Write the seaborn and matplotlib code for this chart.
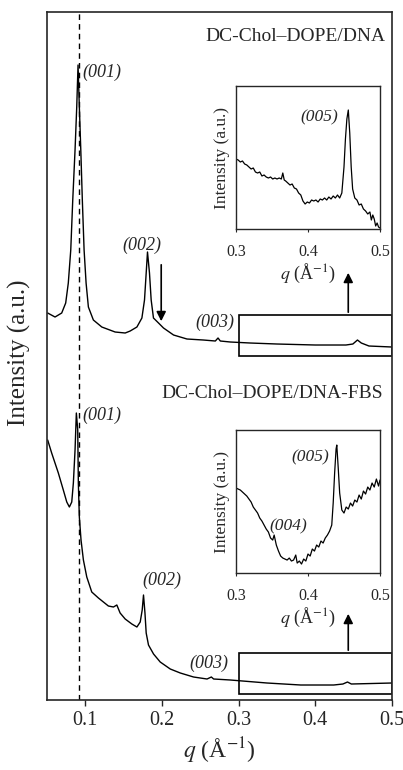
import matplotlib
matplotlib.use("Agg")
import matplotlib.pyplot as plt
from matplotlib.patches import Rectangle
import seaborn as sns
import numpy as np
import pandas as pd

# main curves: q (1/A) and intensity (arbitrary units, stacked with offset)
q_dna = [0.0509, 0.0605, 0.0692, 0.0744, 0.0778, 0.0810, 0.0836, 0.0866, 0.0888, 0.0905,
         0.0922, 0.0941, 0.0961, 0.0984, 0.1010, 0.1040, 0.1105, 0.1215, 0.1389, 0.1520,
         0.1585, 0.1673, 0.1738, 0.1772, 0.1794, 0.1811, 0.1837, 0.1859, 0.1889, 0.1955,
         0.2020, 0.2151, 0.2326, 0.2539, 0.2696, 0.2731, 0.2761, 0.2892, 0.315, 0.350,
         0.400, 0.440, 0.449, 0.455, 0.460, 0.470, 0.500]
i_dna = [385, 381, 385, 395, 415, 448, 498, 548, 591, 633,
         591, 548, 498, 448, 415, 391, 378, 371, 366, 365,
         367, 371, 380, 398, 425, 446, 425, 398, 380, 375,
         370, 363, 359, 358, 357, 360, 357, 356, 355, 354,
         353, 353, 354, 358, 355, 352, 351]

q_fbs = [0.0509, 0.0561, 0.0648, 0.0713, 0.0758, 0.0792, 0.0823, 0.0844, 0.0866, 0.0883,
         0.0901, 0.0909, 0.0922, 0.0944, 0.0975, 0.1019, 0.1084, 0.1171, 0.1301, 0.1367,
         0.1411, 0.1454, 0.1520, 0.1607, 0.1673, 0.1716, 0.1742, 0.1759, 0.1778, 0.1794,
         0.1824, 0.1890, 0.1977, 0.2108, 0.2239, 0.2412, 0.2588, 0.2644, 0.2674, 0.2892,
         0.337, 0.381, 0.424, 0.436, 0.442, 0.447, 0.500]
i_fbs = [258, 245, 225, 208, 196, 191, 196, 215, 248, 285,
         268, 215, 181, 158, 138, 121, 106, 100, 92, 91,
         93, 85, 79, 74, 71, 76, 88, 103, 85, 65,
         53, 44, 36, 29, 25, 21, 19, 21, 19, 18,
         15, 13, 13, 14, 16, 14, 15]

# inset curves (zoom on 0.3-0.5)
q_ins_dna = [0.300, 0.303, 0.306, 0.309, 0.312, 0.315, 0.318, 0.321, 0.324, 0.327,
             0.330, 0.333, 0.336, 0.339, 0.342, 0.345, 0.348, 0.351, 0.354, 0.357,
             0.360, 0.363, 0.365, 0.367, 0.369, 0.372, 0.375, 0.378, 0.381, 0.384,
             0.387, 0.390, 0.393, 0.396, 0.399, 0.402, 0.405, 0.408, 0.411, 0.414,
             0.417, 0.420, 0.423, 0.426, 0.429, 0.432, 0.435, 0.438, 0.441, 0.444,
             0.447, 0.450, 0.452, 0.454, 0.456, 0.458, 0.460, 0.462, 0.465, 0.468,
             0.471, 0.474, 0.477, 0.480, 0.483, 0.486, 0.488, 0.490, 0.492, 0.494,
             0.496, 0.498, 0.500]
i_ins_dna = [70, 69, 67, 68, 65, 64, 62, 60, 61, 57,
             56, 57, 53, 54, 52, 51, 52, 50, 51, 50,
             51, 50, 56, 49, 48, 46, 44, 45, 41, 40,
             36, 34, 28, 25, 27, 26, 29, 28, 29, 27,
             30, 29, 31, 29, 32, 30, 33, 31, 34, 31,
             36, 62, 90, 110, 119, 96, 62, 40, 31, 29,
             24, 25, 20, 18, 15, 17, 9, 14, 10, 3,
             6, 2, 1]

q_ins_fbs = [0.300, 0.303, 0.306, 0.309, 0.312, 0.315, 0.318, 0.321, 0.324, 0.327,
             0.330, 0.333, 0.336, 0.339, 0.342, 0.345, 0.348, 0.351, 0.353, 0.356,
             0.359, 0.362, 0.365, 0.368, 0.371, 0.374, 0.377, 0.380, 0.383, 0.385,
             0.388, 0.391, 0.394, 0.397, 0.400, 0.403, 0.406, 0.409, 0.412, 0.415,
             0.418, 0.421, 0.424, 0.427, 0.430, 0.433, 0.435, 0.437, 0.439, 0.440,
             0.442, 0.444, 0.447, 0.450, 0.453, 0.456, 0.459, 0.462, 0.465, 0.468,
             0.471, 0.474, 0.477, 0.480, 0.483, 0.486, 0.489, 0.492, 0.495, 0.498,
             0.500]
i_ins_fbs = [85, 84, 83, 81, 79, 77, 74, 71, 66, 63,
             60, 55, 52, 48, 44, 41, 35, 33, 38, 28,
             22, 17, 15, 14, 13, 15, 12, 13, 18, 10,
             12, 9, 14, 12, 19, 17, 24, 22, 28, 26,
             32, 30, 35, 38, 42, 48, 70, 100, 124, 128,
             105, 80, 63, 60, 66, 64, 70, 67, 73, 71,
             78, 74, 82, 79, 86, 83, 90, 86, 94, 87,
             93]

sns.set_style("ticks")
plt.rcParams['font.family'] = ['Liberation Serif', 'DejaVu Serif']
plt.rcParams['mathtext.fontset'] = 'stix'

fig = plt.figure(figsize=(4.03, 7.70), dpi=100)
ax = fig.add_axes([0.1166, 0.0909, 0.856, 0.8935])

main = pd.concat([
    pd.DataFrame({'q': q_dna, 'I': i_dna, 'sample': 'DNA'}),
    pd.DataFrame({'q': q_fbs, 'I': i_fbs, 'sample': 'FBS'}),
])
sns.lineplot(data=main, x='q', y='I', units='sample', estimator=None,
             color='black', lw=1, ax=ax, legend=False)

ax.set_xlim(0.05, 0.5)
ax.set_ylim(-2, 686)
ax.set_xticks([0.1, 0.2, 0.3, 0.4, 0.5])
ax.set_xticklabels(['0.1', '0.2', '0.3', '0.4', '0.5'])
ax.set_yticks([])
ax.tick_params(axis='x', direction='out', length=4, width=1, labelsize=14.5, pad=4)
for s in ax.spines.values():
    s.set_linewidth(1.2)
    s.set_visible(True)
ax.set_xlabel('$q$ (Å$^{-1}$)', fontsize=17, labelpad=4)
ax.set_ylabel('Intensity (a.u.)', fontsize=18)
ax.yaxis.set_label_coords(-0.045, 0.505)

ax.axvline(0.092, color='black', ls='--', lw=1, dashes=(4, 3))

# boxes marking the zoomed regions, and arrows
for lo, hi in [(342, 383), (4, 45)]:
    ax.add_patch(Rectangle((0.30, lo), 0.20, hi - lo, fill=False, ec='black', lw=1.2))
arrow = dict(arrowstyle='-|>', color='black', lw=1.2, mutation_scale=14)
ax.annotate('', xy=(0.443, 428), xytext=(0.443, 383), arrowprops=arrow)
ax.annotate('', xy=(0.443, 87), xytext=(0.443, 45), arrowprops=arrow)
ax.annotate('', xy=(0.199, 374), xytext=(0.199, 436), arrowprops=arrow)

ax.text(0.4918, 662, 'DC-Chol–DOPE/DNA', ha='right', va='center', fontsize=14)
ax.text(0.488, 305, 'DC-Chol–DOPE/DNA-FBS', ha='right', va='center', fontsize=14)
pk = dict(fontsize=13, style='italic', va='center')
ax.text(0.0965, 626, '(001)', ha='left', **pk)
ax.text(0.1735, 453, '(002)', ha='center', **pk)
ax.text(0.269, 376, '(003)', ha='center', **pk)
ax.text(0.0955, 283, '(001)', ha='left', **pk)
ax.text(0.200, 118, '(002)', ha='center', **pk)
ax.text(0.261, 35, '(003)', ha='center', **pk)


def draw_inset(rect, q, inten, labels):
    ins = fig.add_axes(rect)
    sns.lineplot(x=q, y=inten, color='black', lw=0.9, ax=ins)
    ins.set_xlim(0.3, 0.5)
    ins.set_ylim(0, 143)
    ins.set_xticks([0.3, 0.4, 0.5])
    ins.set_xticklabels(['0.3', '0.4', '0.5'])
    ins.set_yticks([])
    ins.tick_params(axis='x', direction='out', length=2, width=0.8, labelsize=11.5, pad=9)
    for s in ins.spines.values():
        s.set_linewidth(1.0)
    ins.set_xlabel('$q$ (Å$^{-1}$)', fontsize=13, labelpad=1)
    ins.set_ylabel('Intensity (a.u.)', fontsize=12.5, labelpad=4)
    for x, y, t in labels:
        ins.text(x, y, t, ha='center', va='center', fontsize=12.5, style='italic')
    return ins


draw_inset([0.5856, 0.7026, 0.3573, 0.1857], q_ins_dna, i_ins_dna,
           [(0.416, 112, '(005)')])
draw_inset([0.5856, 0.2558, 0.3573, 0.1857], q_ins_fbs, i_ins_fbs,
           [(0.4035, 116, '(005)'), (0.373, 47, '(004)')])

fig.savefig('out.png', dpi=100)
